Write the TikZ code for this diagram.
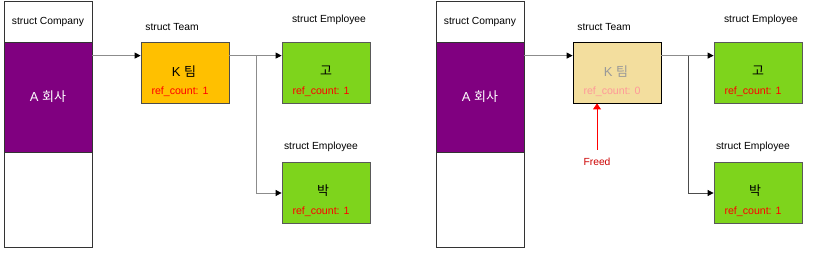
\documentclass[tikz,border=0pt]{standalone}
\usepackage{fontspec}
\setmainfont{Liberation Sans}
\newfontfamily\kr{Noto Sans CJK KR}
\usetikzlibrary{arrows.meta}
\definecolor{compfill}{HTML}{800080}
\definecolor{teamfill}{HTML}{FFC000}
\definecolor{deadfill}{HTML}{F3DE9E}
\definecolor{empfill}{HTML}{7ED41C}
\definecolor{cntred}{HTML}{FF0000}
\definecolor{linegray}{HTML}{8C8C8C}
\tikzset{
  every node/.style={font=\fontsize{10.3}{12}\selectfont},
  cell/.style={draw=black!80, line width=0.8pt, minimum width=88pt, inner sep=0pt},
  teambox/.style={draw=black!70, line width=0.8pt, fill=teamfill, minimum width=88pt, minimum height=61pt},
  empbox/.style={draw=black!65, line width=0.8pt, fill=empfill, minimum width=88pt, minimum height=61pt},
  title/.style={font=\fontsize{13}{15}\selectfont},
  refcnt/.style={anchor=west, text=cntred, font=\fontsize{10.6}{12}\selectfont},
  link/.style={draw=linegray, line width=0.8pt, -{Triangle[length=6pt,width=6pt,color=black]}},
}
\begin{document}
\begin{tikzpicture}[x=1pt,y=-1pt]
  \useasboundingbox (0,0) rectangle (837,264);
  % before: K team still referenced
  \node[cell, minimum height=41pt] (hdrA) at (48,21.5) {struct Company};
  \node[cell, fill=compfill, minimum height=110pt, text=white, title] (compA) at (48,97) {A {\kr 회사}};
  \node[cell, minimum height=95pt] (restA) at (48,199.5) {};
  \node (tlblA) at (172,27) {struct Team};
  \node[teambox] (teamA) at (185,72.5) {};
  \node[title] at (184,72) {K {\kr 팀}};
  \node[refcnt] at (148,92) {ref\_count: 1};
  \node (elblA) at (329,20) {struct Employee};
  \node[empbox] (goA) at (326,72.5) {};
  \node[title] at (326,71) {\kr 고};
  \node[refcnt] at (289,92) {ref\_count: 1};
  \node (plblA) at (321,147) {struct Employee};
  \node[empbox] (parkA) at (326,193) {};
  \node[title] at (323,191) {\kr 박};
  \node[refcnt] at (289,212) {ref\_count: 1};
  \coordinate (brA) at (256,56);
  \draw[link] ([yshift=-14pt]compA.north east) -- ([yshift=-14pt]teamA.north west);
  \draw[link] ([yshift=-14pt]teamA.north east) -- ([yshift=-14pt]goA.north west);
  \draw[link] (brA) |- (parkA.west);

  % after: K team freed
  \node[cell, minimum height=41pt] (hdrB) at (480,21.5) {struct Company};
  \node[cell, fill=compfill, minimum height=110pt, text=white, title] (compB) at (480,97) {A {\kr 회사}};
  \node[cell, minimum height=95pt] (restB) at (480,199.5) {};
  \node (tlblB) at (604,27) {struct Team};
  \node[teambox, draw=black, fill=deadfill] (teamB) at (617,72.5) {};
  \node[title, text=black!40] at (616,72) {K {\kr 팀}};
  \node[refcnt, text=cntred!40] at (580,92) {ref\_count: 0};
  \node (elblB) at (761,20) {struct Employee};
  \node[empbox] (goB) at (758,72.5) {};
  \node[title] at (758,71) {\kr 고};
  \node[refcnt] at (721,92) {ref\_count: 1};
  \node (plblB) at (753,147) {struct Employee};
  \node[empbox] (parkB) at (758,193) {};
  \node[title] at (755,191) {\kr 박};
  \node[refcnt] at (721,212) {ref\_count: 1};
  \node[text=red!80!black] (freed) at (597,162) {Freed};
  \coordinate (brB) at (688,56);
  \draw[link] ([yshift=-14pt]compB.north east) -- ([yshift=-14pt]teamB.north west);
  \draw[link] ([yshift=-14pt]teamB.north east) -- ([yshift=-14pt]goB.north west);
  \draw[link, draw=black!70] (brB) |- (parkB.west);
  \draw[red, line width=0.8pt, -{Triangle[length=6pt,width=8pt]}] (freed.north |- 0,150) -- (freed.north |- teamB.south);
\end{tikzpicture}
\end{document}
